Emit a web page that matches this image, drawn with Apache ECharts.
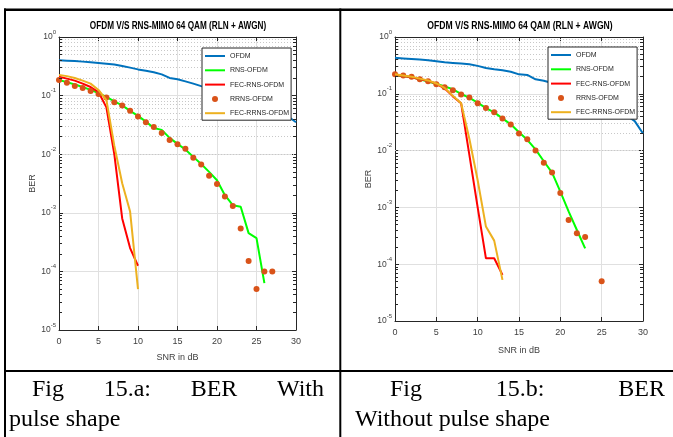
<!DOCTYPE html>
<html><head><meta charset="utf-8">
<script src="https://cdn.jsdelivr.net/npm/echarts@6/dist/echarts.min.js"></script>
<style>html,body{margin:0;padding:0;background:#fff}#c{width:673px;height:437px}</style>
</head><body><div id="c"></div>
<script>
// ---------- data ----------
const titleText = 'OFDM V/S RNS-MIMO 64 QAM (RLN + AWGN)';
const seriesNames = ['OFDM', 'RNS-OFDM', 'FEC-RNS-OFDM', 'RRNS-OFDM', 'FEC-RRNS-OFDM'];
const xTicks = [0, 5, 10, 15, 20, 25, 30];

// Fig 15.a (with pulse shape)
const snrA_ofdm = [0,1,2,3,4,5,6,7,8,9,10,11,12,13,14,15,16,17,18,19,20,21,22,23,24,25,26,27,28,29,30];
const berA_ofdm = [0.40,0.395,0.39,0.38,0.37,0.36,0.35,0.34,0.32,0.30,0.28,0.265,0.25,0.23,0.20,0.19,0.175,0.16,0.145,0.135,0.12,0.11,0.10,0.092,0.085,0.076,0.068,0.06,0.052,0.044,0.035];
const snrA_rns = [0,1,2,3,4,5,6,7,8,9,10,11,12,13,14,15,16,17,18,19,20,21,22,23,24,25,26];
const berA_rns = [0.185,0.17,0.155,0.14,0.125,0.11,0.095,0.08,0.068,0.055,0.045,0.036,0.028,0.026,0.019,0.015,0.012,0.009,0.0068,0.005,0.0036,0.002,0.00135,0.00127,0.00045,0.00037,0.000063];
const snrA_fecRns = [0,1,2,3,4,5,6,7,8,9,10];
const berA_fecRns = [0.21,0.195,0.18,0.16,0.14,0.115,0.063,0.01,0.0008,0.00025,0.000125];
const snrA_rrns = [0,1,2,3,4,5,6,7,8,9,10,11,12,13,14,15,16,17,18,19,20,21,22,23,24,25,26,27];
const berA_rrns = [0.185,0.166,0.146,0.135,0.12,0.107,0.093,0.077,0.068,0.055,0.044,0.035,0.029,0.023,0.0174,0.0148,0.0124,0.0087,0.0067,0.0043,0.0031,0.0019,0.0013,0.00054,0.00015,0.00005,0.0001,0.0001];
const snrA_fecRrns = [0,1,2,3,4,5,6,7,8,9,10];
const berA_fecRrns = [0.225,0.215,0.20,0.18,0.16,0.125,0.084,0.014,0.0032,0.00105,0.00005];

// Fig 15.b (without pulse shape)
const snrB_ofdm = [0,1,2,3,4,5,6,7,8,9,10,11,12,13,14,15,16,17,18,19,20,21,22,23,24,25,26,27,28,29,30];
const berB_ofdm = [0.43,0.42,0.41,0.40,0.39,0.375,0.36,0.35,0.34,0.33,0.31,0.285,0.27,0.26,0.245,0.22,0.215,0.18,0.17,0.155,0.14,0.13,0.115,0.10,0.09,0.08,0.065,0.052,0.042,0.033,0.02];
const snrB_rns = [0,1,2,3,4,5,6,7,8,9,10,11,12,13,14,15,16,17,18,19,20,21,22,23];
const berB_rns = [0.21,0.205,0.195,0.18,0.165,0.15,0.135,0.12,0.1,0.085,0.07,0.056,0.047,0.037,0.029,0.021,0.0155,0.0105,0.0065,0.0041,0.0019,0.00085,0.0004,0.00019];
const snrB_fecRns = [0,1,2,3,4,5,6,7,8,9,10,11,12,13];
const berB_fecRns = [0.215,0.205,0.195,0.18,0.17,0.15,0.125,0.09,0.068,0.0083,0.001,0.000127,0.000127,0.000065];
const snrB_rrns = [0,1,2,3,4,5,6,7,8,9,10,11,12,13,14,15,16,17,18,19,20,21,22,23,25];
const berB_rrns = [0.22,0.21,0.20,0.18,0.166,0.147,0.13,0.116,0.097,0.086,0.068,0.056,0.0475,0.0368,0.0288,0.020,0.0158,0.01,0.0061,0.0041,0.0018,0.0006,0.00035,0.0003,0.00005];
const snrB_fecRrns = [0,1,2,3,4,5,6,7,8,9,10,11,12,13];
const berB_fecRrns = [0.22,0.21,0.20,0.185,0.172,0.152,0.127,0.092,0.068,0.016,0.003,0.00046,0.00026,0.000053];

const captionA1 = ['Fig', '15.a:', 'BER', 'With'];
const captionA2 = 'pulse shape';
const captionB1 = ['Fig', '15.b:', 'BER'];
const captionB2 = 'Without pulse shape';

// ---------- styles ----------
const colors = ['#0072BD', '#00FF00', '#FF0000', '#D95319', '#EDB120'];
const axisColor = '#262626';
const narrow = "'Liberation Sans',Arial,sans-serif";
const sans = "'Liberation Sans',Arial,sans-serif";

const pairs = (xs, ys) => xs.map((x, i) => [x, ys[i]]);

// minor log positions (2..9 x 10^n) for dotted grid and minor ticks
const minorVals = [];
for (let e = -5; e <= -1; e++) for (let k = 2; k <= 9; k++) minorVals.push(k * Math.pow(10, e));

const grids = [
  { left: 59, top: 37, width: 237, height: 293 },
  { left: 395, top: 37, width: 248, height: 284 }
];

const xAxes = [], yAxes = [];
grids.forEach((g, gi) => {
  const nameGap = gi === 0 ? 23 : 25;
  xAxes.push({
    gridIndex: gi, type: 'value', min: 0, max: 30, interval: 5, position: 'bottom',
    axisLine: { onZero: false, lineStyle: { color: axisColor, width: 1 } },
    axisTick: { inside: true, length: 4, lineStyle: { color: axisColor } },
    axisLabel: { color: '#404040', fontSize: 9, fontFamily: narrow, margin: 7 },
    splitLine: { show: true, lineStyle: { color: '#e0e0e0', width: 1 } },
    name: 'SNR in dB', nameLocation: 'middle', nameGap: nameGap,
    nameTextStyle: { color: '#404040', fontSize: 9, fontFamily: narrow }
  });
  xAxes.push({
    gridIndex: gi, type: 'value', min: 0, max: 30, interval: 5, position: 'top',
    axisLine: { onZero: false, lineStyle: { color: axisColor, width: 1 } },
    axisTick: { inside: true, length: 4, lineStyle: { color: axisColor } },
    axisLabel: { show: false }, splitLine: { show: false }
  });
  yAxes.push({
    gridIndex: gi, type: 'log', logBase: 10, min: 1e-5, max: 1, splitNumber: 5, position: 'left',
    axisLine: { onZero: false, lineStyle: { color: axisColor, width: 1 } },
    axisTick: { inside: true, length: 4, lineStyle: { color: axisColor } },
    axisLabel: {
      margin: 3, color: '#404040',
      formatter: v => '{b|10}{s|' + Math.round(Math.log10(v)) + '}',
      rich: {
        b: { fontSize: 8.5, fontFamily: narrow, color: '#404040', lineHeight: 16 },
        s: { fontSize: 6, fontFamily: narrow, color: '#404040', lineHeight: 6, verticalAlign: 'top' }
      }
    },
    splitLine: { show: true, lineStyle: { color: '#e0e0e0', width: 1 } },
    name: 'BER', nameLocation: 'middle', nameGap: 16, nameRotate: 90,
    nameTextStyle: { color: '#404040', fontSize: 9, fontFamily: sans }
  });
  yAxes.push({
    gridIndex: gi, type: 'log', logBase: 10, min: 1e-5, max: 1, splitNumber: 5, position: 'right',
    axisLine: { onZero: false, lineStyle: { color: axisColor, width: 1 } },
    axisTick: { inside: true, length: 4, lineStyle: { color: axisColor } },
    axisLabel: { show: false }, splitLine: { show: false }
  });
});

const series = [];
const datasets = [
  [pairs(snrA_ofdm, berA_ofdm), pairs(snrA_rns, berA_rns), pairs(snrA_fecRns, berA_fecRns), pairs(snrA_rrns, berA_rrns), pairs(snrA_fecRrns, berA_fecRrns)],
  [pairs(snrB_ofdm, berB_ofdm), pairs(snrB_rns, berB_rns), pairs(snrB_fecRns, berB_fecRns), pairs(snrB_rrns, berB_rrns), pairs(snrB_fecRrns, berB_fecRrns)]
];
datasets.forEach((sets, gi) => {
  const xi = gi * 2, yi = gi * 2;
  // dotted minor grid
  series.push({
    type: 'line', xAxisIndex: xi, yAxisIndex: yi, data: [], silent: true, z: 1,
    markLine: {
      silent: true, symbol: 'none', z: 1, animation: false, label: { show: false },
      lineStyle: { type: [1, 2], color: '#c8c8c8', width: 1 },
      emphasis: { disabled: true },
      data: minorVals.map(v => ({ yAxis: v }))
    }
  });
  // minor ticks (inside, both sides)
  const tk = 3 / (grids[gi].width / 30);
  const tickData = [];
  minorVals.forEach(v => {
    tickData.push([{ coord: [0, v] }, { coord: [tk, v] }]);
    tickData.push([{ coord: [30 - tk, v] }, { coord: [30, v] }]);
  });
  series.push({
    type: 'line', xAxisIndex: xi, yAxisIndex: yi, data: [], silent: true, z: 6,
    markLine: {
      silent: true, symbol: 'none', z: 6, animation: false, label: { show: false },
      lineStyle: { type: 'solid', color: axisColor, width: 1 },
      emphasis: { disabled: true },
      data: tickData
    }
  });
  sets.forEach((d, si) => {
    if (si === 3) {
      series.push({
        name: seriesNames[si], type: 'scatter', xAxisIndex: xi, yAxisIndex: yi, data: d,
        symbol: 'circle', symbolSize: 6, itemStyle: { color: colors[si], opacity: 1 }, z: 3
      });
    } else {
      series.push({
        name: seriesNames[si], type: 'line', xAxisIndex: xi, yAxisIndex: yi, data: d,
        symbol: 'none', showSymbol: false, lineStyle: { color: colors[si], width: 2 },
        itemStyle: { color: colors[si] }, z: si === 4 ? 4 : 2
      });
    }
  });
});

const legendData = seriesNames.map((n, i) => i === 3
  ? { name: n, itemStyle: { color: colors[i], opacity: 1 } }
  : { name: n, itemStyle: { opacity: 0 } });

const legendCommon = {
  orient: 'vertical', itemWidth: 20, itemHeight: 6, itemGap: 4.3,
  padding: [3, 2, 2, 2], backgroundColor: '#fff', borderColor: axisColor, borderWidth: 1, borderRadius: 0,
  textStyle: { fontSize: 7, fontFamily: narrow, color: '#262626', lineHeight: 10 },
  selectedMode: false,
  data: legendData
};

// captions (justified words as separate texts)
const capFont = "24px 'Liberation Serif','Times New Roman',serif";
const capXA1 = [32, 103.7, 190.7, 277];
const capXB1 = [390, 495.8, 618.3];
const graphics = [
  // table rules
  { type: 'rect', shape: { x: 4, y: 8.5, width: 669, height: 2.5 }, style: { fill: '#000' }, silent: true },
  { type: 'rect', shape: { x: 4, y: 8.5, width: 2, height: 430 }, style: { fill: '#000' }, silent: true },
  { type: 'rect', shape: { x: 339.3, y: 8.5, width: 2, height: 430 }, style: { fill: '#000' }, silent: true },
  { type: 'rect', shape: { x: 4, y: 370, width: 669, height: 2 }, style: { fill: '#000' }, silent: true },
  // chart titles
  { type: 'text', x: 178, y: 26, scaleX: 0.78, style: { text: titleText, font: "bold 10.5px 'Liberation Sans',Arial,sans-serif", fill: '#000', align: 'center', verticalAlign: 'middle' }, silent: true },
  { type: 'text', x: 520, y: 26, scaleX: 0.82, style: { text: titleText, font: "bold 10.5px 'Liberation Sans',Arial,sans-serif", fill: '#000', align: 'center', verticalAlign: 'middle' }, silent: true }
];
captionA1.forEach((w, i) => graphics.push({ type: 'text', x: capXA1[i], y: 390, style: { text: w, font: capFont, fill: '#000', align: 'left', verticalAlign: 'middle' }, silent: true }));
captionB1.forEach((w, i) => graphics.push({ type: 'text', x: capXB1[i], y: 390, style: { text: w, font: capFont, fill: '#000', align: 'left', verticalAlign: 'middle' }, silent: true }));
graphics.push({ type: 'text', x: 9, y: 420, style: { text: captionA2, font: capFont, fill: '#000', align: 'left', verticalAlign: 'middle' }, silent: true });
graphics.push({ type: 'text', x: 355, y: 420, style: { text: captionB2, font: capFont, fill: '#000', align: 'left', verticalAlign: 'middle' }, silent: true });

const chart = echarts.init(document.getElementById('c'), null, { renderer: 'canvas' });
chart.setOption({
  animation: false,
  backgroundColor: '#fff',
  grid: grids.map(g => Object.assign({ containLabel: false, outerBoundsMode: 'none' }, g)),
  xAxis: xAxes,
  yAxis: yAxes,
  legend: [
    Object.assign({ left: 202, top: 48 }, legendCommon),
    Object.assign({ left: 548, top: 47 }, legendCommon)
  ],
  series: series,
  graphic: graphics
});
</script></body></html>
